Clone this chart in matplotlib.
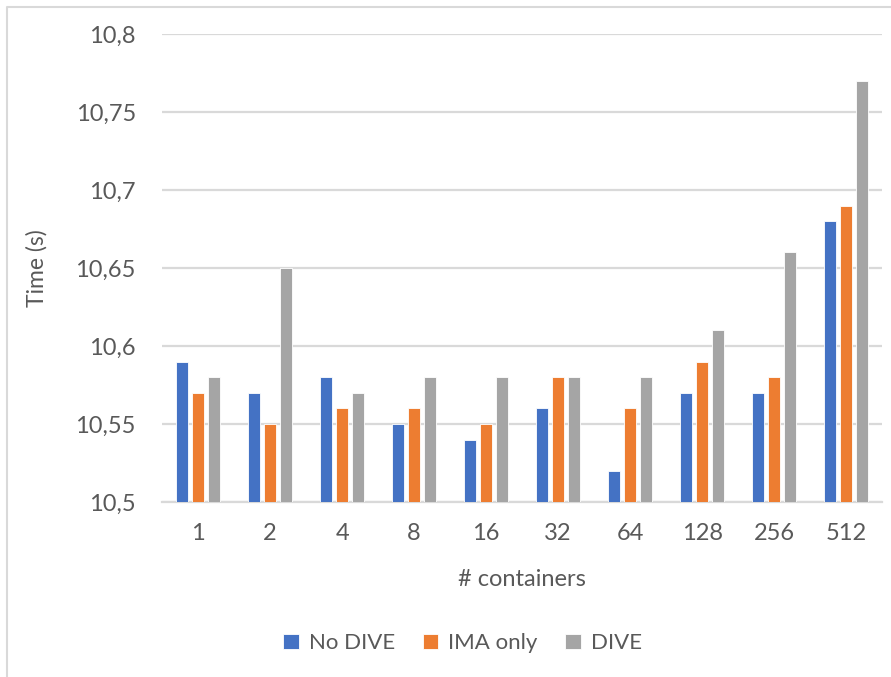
import numpy as np
import matplotlib.pyplot as plt
from matplotlib.lines import Line2D
from matplotlib.ticker import FuncFormatter

plt.rcParams["font.family"] = ["Lato", "DejaVu Sans"]

# data
containers = ["1", "2", "4", "8", "16", "32", "64", "128", "256", "512"]
no_dive = [10.59, 10.57, 10.58, 10.55, 10.54, 10.56, 10.52, 10.57, 10.57, 10.68]
ima_only = [10.57, 10.55, 10.56, 10.56, 10.55, 10.58, 10.56, 10.59, 10.58, 10.69]
dive = [10.58, 10.65, 10.57, 10.58, 10.58, 10.58, 10.58, 10.61, 10.66, 10.77]

text_col = "#595959"
grid_col = "#D9D9D9"

fig = plt.figure(figsize=(8.91, 6.77), dpi=100)
ax = fig.add_axes([0.182, 0.2585, 0.808, 0.6915])

x = np.arange(len(containers))
w = 0.17
step = 0.225
base = 10.5
series = [(no_dive, "No DIVE", "#4472C4"),
          (ima_only, "IMA only", "#ED7D31"),
          (dive, "DIVE", "#A5A5A5")]
for i, (vals, name, col) in enumerate(series):
    heights = np.array(vals) - base
    ax.bar(x + (i - 1) * step, heights, w, bottom=base, color=col,
           label=name, edgecolor="white", linewidth=0.6, zorder=3)

ax.set_xlim(-0.5, len(containers) - 0.5)
ax.set_ylim(10.5, 10.8)
ax.set_yticks([10.5, 10.55, 10.6, 10.65, 10.7, 10.75, 10.8])
ax.yaxis.set_major_formatter(FuncFormatter(lambda v, p: f"{v:g}".replace(".", ",")))
ax.set_xticks(x)
ax.set_xticklabels(containers)
ax.tick_params(axis="both", length=0, labelsize=17, colors=text_col)
ax.tick_params(axis="y", pad=19)
ax.tick_params(axis="x", pad=15)

ax.grid(axis="y", color=grid_col, linewidth=1.6, zorder=0)
for s in ["top", "right", "left"]:
    ax.spines[s].set_visible(False)
ax.spines["bottom"].set_color(grid_col)
ax.spines["bottom"].set_linewidth(1.6)

ax.set_ylabel("Time (s)", fontsize=16.5, color=text_col, labelpad=20)
ax.set_xlabel("# containers", fontsize=17, color=text_col, labelpad=18)

fig.legend(loc="center", bbox_to_anchor=(0.519, 0.05), ncol=3, frameon=False,
           fontsize=16, labelcolor=text_col, handlelength=0.7,
           handleheight=0.7, handletextpad=0.45, columnspacing=1.25)

# outer chart border
bx, by = 7 / 891, 1 - 7 / 677
fig.add_artist(Line2D([bx, bx, 1.0], [0.0, by, by], transform=fig.transFigure,
                      color=grid_col, linewidth=1.5))

fig.savefig("out.png", dpi=100)
